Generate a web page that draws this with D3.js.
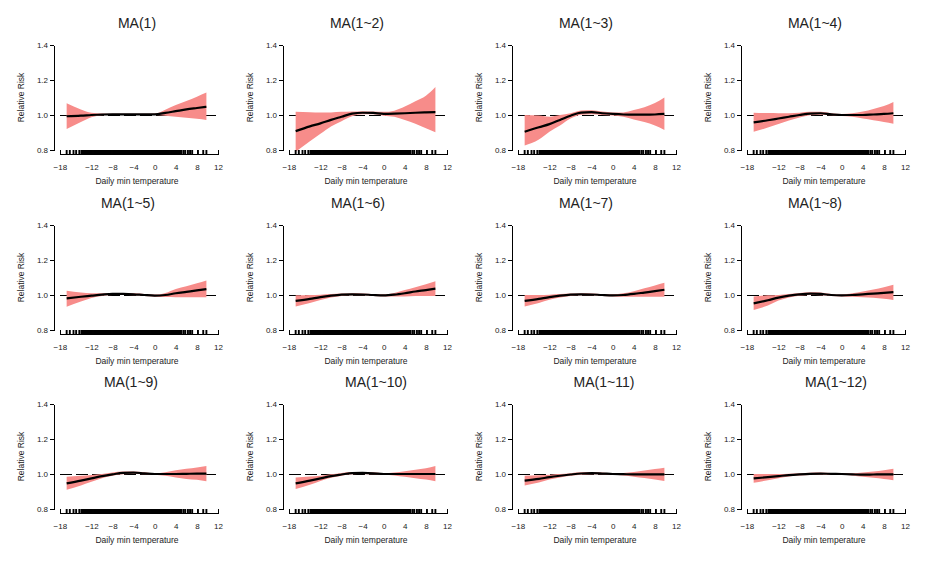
<!DOCTYPE html>
<html>
<head>
<meta charset="utf-8">
<script src="https://cdn.jsdelivr.net/npm/d3@7"></script>
<style>
  html, body { margin: 0; padding: 0; background: #fff; }
  svg { display: block; font-family: "Liberation Sans", Arial, sans-serif; }
</style>
</head>
<body>
<svg id="chart" width="945" height="561"></svg>
<script>
// ---------------- DATA ----------------
const titles = ["MA(1)", "MA(1~2)", "MA(1~3)", "MA(1~4)",
                "MA(1~5)", "MA(1~6)", "MA(1~7)", "MA(1~8)",
                "MA(1~9)", "MA(1~10)", "MA(1~11)", "MA(1~12)"];

const temps = [-16.7, -14, -12, -10, -8, -6, -4, -2, 0, 2, 4, 6, 8, 9.8];

const rr = [
  [0.993, 0.996, 1.000, 1.003, 1.004, 1.004, 1.004, 1.004, 1.004, 1.012, 1.022, 1.032, 1.040, 1.047],
  [0.908, 0.935, 0.952, 0.972, 0.990, 1.008, 1.013, 1.012, 1.007, 1.008, 1.010, 1.013, 1.015, 1.016],
  [0.904, 0.930, 0.948, 0.972, 0.996, 1.014, 1.016, 1.010, 1.006, 1.003, 1.002, 1.002, 1.003, 1.006],
  [0.958, 0.970, 0.980, 0.990, 1.000, 1.008, 1.010, 1.004, 1.000, 1.000, 1.000, 1.003, 1.006, 1.010],
  [0.981, 0.990, 0.996, 1.002, 1.006, 1.006, 1.004, 1.000, 0.997, 1.000, 1.010, 1.018, 1.026, 1.034],
  [0.966, 0.978, 0.988, 0.996, 1.002, 1.004, 1.003, 1.000, 0.998, 1.002, 1.010, 1.020, 1.028, 1.036],
  [0.966, 0.978, 0.988, 0.996, 1.002, 1.004, 1.003, 1.000, 0.998, 1.000, 1.006, 1.014, 1.022, 1.030],
  [0.952, 0.970, 0.985, 0.996, 1.004, 1.008, 1.006, 1.000, 0.998, 1.000, 1.004, 1.008, 1.012, 1.016],
  [0.946, 0.962, 0.975, 0.988, 0.998, 1.006, 1.008, 1.004, 1.000, 1.000, 1.000, 1.001, 1.002, 1.002],
  [0.946, 0.962, 0.975, 0.988, 0.997, 1.005, 1.006, 1.004, 1.000, 1.000, 1.000, 1.000, 1.000, 1.000],
  [0.962, 0.972, 0.982, 0.990, 0.997, 1.003, 1.005, 1.003, 1.000, 0.999, 0.998, 0.998, 0.998, 0.998],
  [0.975, 0.982, 0.988, 0.994, 0.998, 1.001, 1.002, 1.001, 1.000, 0.998, 0.996, 0.997, 0.998, 0.998]
];

const upper = [
  [1.067, 1.032, 1.013, 1.008, 1.007, 1.007, 1.007, 1.007, 1.008, 1.030, 1.057, 1.080, 1.105, 1.128],
  [1.018, 1.016, 1.014, 1.015, 1.018, 1.020, 1.022, 1.020, 1.018, 1.025, 1.048, 1.078, 1.110, 1.160],
  [1.000, 0.997, 0.990, 1.000, 1.010, 1.026, 1.027, 1.020, 1.015, 1.015, 1.028, 1.045, 1.068, 1.100],
  [1.013, 1.011, 1.010, 1.010, 1.013, 1.018, 1.018, 1.010, 1.006, 1.010, 1.020, 1.035, 1.052, 1.075],
  [1.025, 1.015, 1.010, 1.010, 1.012, 1.012, 1.010, 1.006, 1.003, 1.012, 1.035, 1.050, 1.067, 1.083],
  [0.998, 1.000, 1.002, 1.006, 1.008, 1.010, 1.008, 1.005, 1.004, 1.012, 1.028, 1.045, 1.062, 1.078],
  [1.000, 1.000, 1.002, 1.006, 1.008, 1.010, 1.008, 1.005, 1.004, 1.010, 1.022, 1.038, 1.055, 1.070],
  [0.992, 0.998, 1.000, 1.006, 1.012, 1.016, 1.014, 1.006, 1.003, 1.010, 1.020, 1.032, 1.045, 1.058],
  [0.985, 0.990, 0.994, 1.000, 1.008, 1.014, 1.014, 1.010, 1.004, 1.010, 1.022, 1.030, 1.037, 1.046],
  [0.980, 0.986, 0.990, 0.998, 1.006, 1.012, 1.012, 1.010, 1.004, 1.008, 1.016, 1.025, 1.033, 1.046],
  [0.990, 0.993, 0.996, 1.000, 1.005, 1.010, 1.011, 1.008, 1.004, 1.006, 1.012, 1.020, 1.028, 1.036],
  [1.000, 1.000, 1.000, 1.002, 1.005, 1.007, 1.008, 1.006, 1.004, 1.004, 1.008, 1.014, 1.022, 1.030]
];

const lower = [
  [0.920, 0.960, 0.987, 0.998, 1.000, 1.000, 1.000, 1.000, 1.000, 0.996, 0.990, 0.985, 0.978, 0.972],
  [0.790, 0.850, 0.893, 0.935, 0.965, 0.993, 1.004, 1.004, 0.996, 0.990, 0.972, 0.950, 0.925, 0.902],
  [0.826, 0.860, 0.904, 0.940, 0.980, 1.002, 1.005, 1.000, 0.997, 0.990, 0.975, 0.960, 0.940, 0.915],
  [0.904, 0.928, 0.948, 0.968, 0.986, 0.998, 1.002, 0.998, 0.994, 0.990, 0.980, 0.970, 0.960, 0.950],
  [0.933, 0.963, 0.983, 0.994, 1.000, 1.000, 0.998, 0.994, 0.990, 0.988, 0.987, 0.987, 0.987, 0.987],
  [0.935, 0.955, 0.972, 0.986, 0.995, 0.998, 0.998, 0.995, 0.992, 0.992, 0.992, 0.994, 0.994, 0.994],
  [0.935, 0.955, 0.973, 0.986, 0.995, 0.998, 0.998, 0.995, 0.992, 0.990, 0.990, 0.990, 0.990, 0.990],
  [0.915, 0.940, 0.968, 0.986, 0.996, 1.000, 0.998, 0.994, 0.992, 0.990, 0.987, 0.984, 0.978, 0.972],
  [0.910, 0.935, 0.956, 0.976, 0.990, 0.998, 1.002, 0.998, 0.996, 0.990, 0.980, 0.972, 0.967, 0.958],
  [0.915, 0.938, 0.960, 0.978, 0.990, 0.998, 1.000, 0.998, 0.996, 0.992, 0.984, 0.976, 0.968, 0.958],
  [0.935, 0.952, 0.968, 0.980, 0.990, 0.996, 0.999, 0.998, 0.996, 0.992, 0.985, 0.977, 0.968, 0.960],
  [0.950, 0.964, 0.976, 0.986, 0.991, 0.995, 0.996, 0.996, 0.996, 0.992, 0.984, 0.978, 0.972, 0.965]
];

// observed daily minimum temperatures (rug)
const rugTemps = [
  -16.7, -16.1, -15.4, -14.9, -14.3,
  -13.9, -13.7, -13.5, -13.3, -13.1, -12.9, -12.7, -12.5, -12.3, -12.1,
  -11.9, -11.7, -11.5, -11.3, -11.1, -10.9, -10.7, -10.5, -10.3, -10.1,
  -9.9, -9.7, -9.5, -9.3, -9.1, -8.9, -8.7, -8.5, -8.3, -8.1,
  -7.9, -7.7, -7.5, -7.3, -7.1, -6.9, -6.7, -6.5, -6.3, -6.1,
  -5.9, -5.7, -5.5, -5.3, -5.1, -4.9, -4.7, -4.5, -4.3, -4.1,
  -3.9, -3.7, -3.5, -3.3, -3.1, -2.9, -2.7, -2.5, -2.3, -2.1,
  -1.9, -1.7, -1.5, -1.3, -1.1, -0.9, -0.7, -0.5, -0.3, -0.1,
  0.1, 0.3, 0.5, 0.7, 0.9, 1.1, 1.3, 1.5, 1.7, 1.9,
  2.1, 2.3, 2.5, 2.7, 2.9, 3.1, 3.3, 3.5, 3.7, 3.9,
  4.1, 4.3, 4.5, 4.7, 4.9, 5.1,
  5.5, 5.8, 6.3, 6.7, 7.1, 8.2, 9.2, 9.8
];

const xTicks = [-18, -12, -8, -4, 0, 4, 8, 12];
const yTicks = [0.8, 1.0, 1.2, 1.4];
const refValue = 1.0;

// ---------------- LAYOUT ----------------
const COL_W = 229, ROW_H = 179.5;
const TITLE_X = [137, 128, 128, 128, 128, 129, 128, 128, 131, 147, 146, 149];
const BAND = "#f78c8a";
const TEXT = "#222";

const svg = d3.select("#chart");

const x = d3.scaleLinear().domain([-18, 12]).range([59.8, 218]);
const y = d3.scaleLinear().domain([0.8, 1.4]).range([150, 45]);

titles.forEach((title, i) => {
  const col = i % 4, row = Math.floor(i / 4);
  const g = svg.append("g")
    .attr("transform", `translate(${col * COL_W},${Math.round(row * ROW_H)})`);

  // title
  g.append("text")
    .attr("x", TITLE_X[i]).attr("y", 28)
    .attr("text-anchor", "middle")
    .attr("font-size", 14)
    .attr("fill", TEXT)
    .text(title);

  // reference dashed line
  g.append("line")
    .attr("x1", x(-18)).attr("x2", x(12))
    .attr("y1", y(refValue) + 0.5).attr("y2", y(refValue) + 0.5)
    .attr("stroke", "#000").attr("stroke-width", 1)
    .attr("shape-rendering", "crispEdges")
    .attr("stroke-dasharray", "12,4");

  const pts = temps.map((t, k) => ({ t, rr: rr[i][k], lo: lower[i][k], hi: upper[i][k] }));

  // CI band
  g.append("path")
    .datum(pts)
    .attr("fill", BAND)
    .attr("d", d3.area()
      .x(d => x(d.t))
      .y0(d => y(Math.max(d.lo, 0.79)))
      .y1(d => y(d.hi))
      .curve(d3.curveMonotoneX));

  // RR line
  g.append("path")
    .datum(pts)
    .attr("fill", "none")
    .attr("stroke", "#000")
    .attr("stroke-width", 2.2)
    .attr("d", d3.line()
      .x(d => x(d.t))
      .y(d => y(d.rr))
      .curve(d3.curveMonotoneX));

  // y axis
  const yAxis = g.append("g")
    .attr("transform", "translate(54,0)")
    .call(d3.axisLeft(y).tickValues(yTicks).tickFormat(d3.format(".1f"))
      .tickSize(4).tickSizeOuter(0).tickPadding(2));
  yAxis.selectAll(".domain, .tick line").attr("stroke", "#000")
    .attr("shape-rendering", "crispEdges");
  yAxis.selectAll("text").attr("font-size", 8).attr("fill", TEXT)
    .attr("font-family", "Liberation Sans, Arial, sans-serif");

  // x axis (ticks point inward, like the rug)
  const xAxis = g.append("g")
    .attr("transform", "translate(0,154)")
    .call(d3.axisBottom(x).tickValues(xTicks).tickFormat(d3.format("d"))
      .tickSizeInner(-4).tickSizeOuter(0).tickPadding(10));
  xAxis.selectAll(".domain, .tick line").attr("stroke", "#000")
    .attr("shape-rendering", "crispEdges");
  xAxis.selectAll("text").attr("font-size", 8).attr("fill", TEXT)
    .attr("font-family", "Liberation Sans, Arial, sans-serif")
    .text(d => d < 0 ? "\u2212" + Math.abs(d) : d);

  // rug
  g.append("g").selectAll("line")
    .data(rugTemps)
    .join("line")
    .attr("x1", d => x(d)).attr("x2", d => x(d))
    .attr("y1", 154).attr("y2", 150)
    .attr("stroke", "#000").attr("stroke-width", 1.9);

  // axis titles
  g.append("text")
    .attr("x", 137).attr("y", 183.5)
    .attr("text-anchor", "middle")
    .attr("font-size", 8.5).attr("fill", TEXT)
    .text("Daily min temperature");

  g.append("text")
    .attr("transform", "translate(24,97.5) rotate(-90)")
    .attr("text-anchor", "middle")
    .attr("font-size", 8.5).attr("fill", TEXT)
    .text("Relative Risk");
});
</script>
</body>
</html>
